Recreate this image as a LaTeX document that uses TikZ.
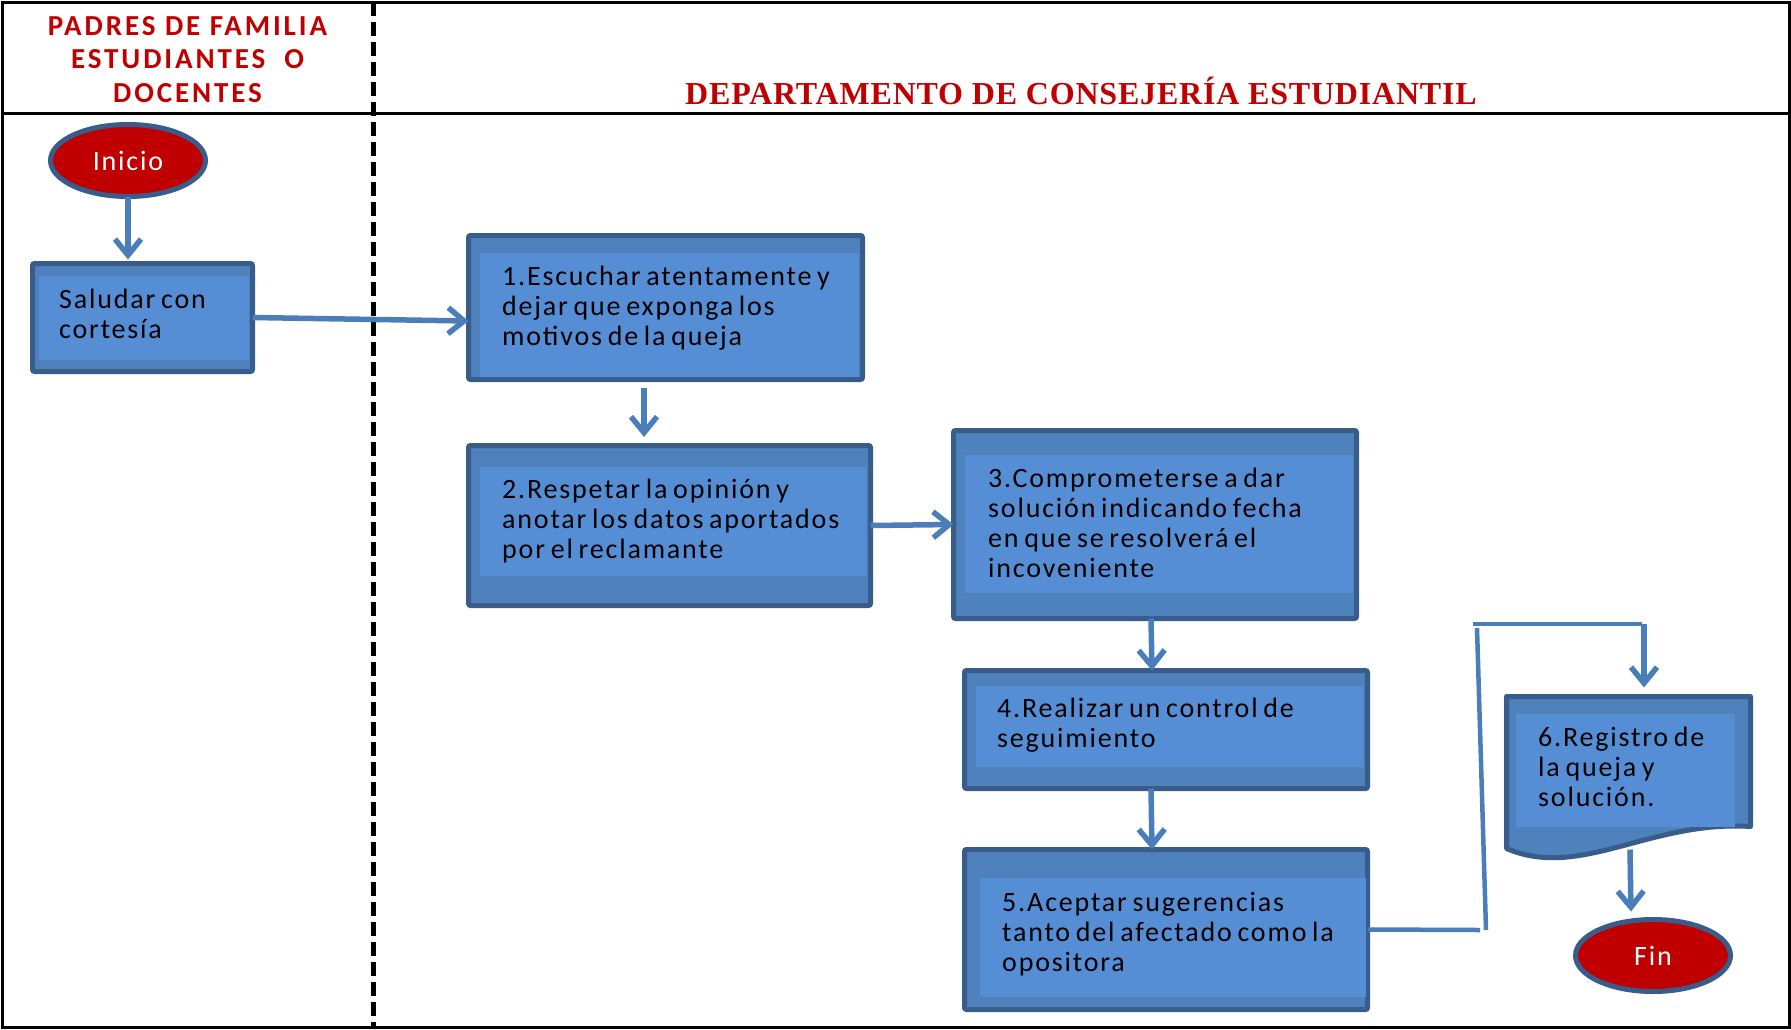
\documentclass[tikz,border=0pt]{standalone}
\usepackage{fontspec}
\usetikzlibrary{arrows.meta,calc,shapes.geometric}
\setmainfont{Carlito}
\newfontfamily\bodyfont[LetterSpace=6.5,WordSpace=0.7]{Carlito}
\newfontfamily\headfont[LetterSpace=10]{Carlito}
\newfontfamily\deptfont[LetterSpace=2.5]{Liberation Serif}

\definecolor{boxedge}{RGB}{56,93,138}
\definecolor{boxmid}{RGB}{79,129,189}
\definecolor{boxlight}{RGB}{85,142,213}
\definecolor{flowc}{RGB}{74,126,187}
\definecolor{termred}{RGB}{192,0,0}

\tikzset{
  box/.style={draw=boxedge, fill=boxmid, line width=5pt, rounded corners=2pt,
    inner sep=0pt, outer sep=0pt},
  lite/.style={fill=boxlight},
  txt/.style={font={\bodyfont\fontsize{28}{30}\selectfont}, align=left,
    inner sep=0pt, anchor=base west, text=black},
  flow/.style={draw=flowc, line width=5.5pt, -{Straight Barb[length=16pt,width=26pt]}},
  link/.style={draw=flowc, line width=4.5pt},
  term/.style={ellipse, draw=boxedge, fill=termred, line width=5pt,
    minimum width=155pt, minimum height=72pt, inner sep=0pt, outer sep=0pt,
    font={\bodyfont\fontsize{28}{30}\selectfont}, text=white},
  lanehead/.style={text=termred, inner sep=0pt},
}

\begin{document}
\begin{tikzpicture}[x=1pt,y=-1pt]
\useasboundingbox (0,0) rectangle (1791,1029);

% swimlane frame
\draw[line width=3pt] (2,2) rectangle (1789,1027);
\draw[line width=3pt] (2,113) -- (1789,113);
\draw[line width=5pt, dash pattern=on 14pt off 6pt] (373,2) -- (373,1027);

% lane titles (multi-line nodes are anchored on their last baseline)
\node[lanehead, align=center, anchor=base,
  font={\headfont\bfseries\fontsize{29}{33.5}\selectfont}] (lane1) at (187.5,102)
  {PADRES DE FAMILIA\\ESTUDIANTES\ \ O\\DOCENTES};
\node[lanehead, anchor=base, font={\deptfont\bfseries\fontsize{32}{34}\selectfont}]
  (lane2) at (1081,104) {DEPARTAMENTO DE CONSEJERÍA ESTUDIANTIL};

% terminals
\node[term] (ini) at (128,160.5) {Inicio};
\node[term] (fin) at (1653,955.5) {Fin};

% process boxes
\node[box, minimum width=220pt, minimum height=108pt] (b0) at (142.5,317.5) {};
\fill[lite] (39,276) rectangle (249,360);
\node[txt] (t0) at (59,338) {Saludar con\\cortesía};

\node[box, minimum width=394pt, minimum height=144pt] (b1) at (665.5,307.5) {};
\fill[lite] (480,253) rectangle (859,377);
\node[txt] (t1) at (502,345) {1.Escuchar atentamente y\\dejar que exponga los\\motivos de la queja};

\node[box, minimum width=402pt, minimum height=160pt] (b2) at (669.5,525.5) {};
\fill[lite] (480,467) rectangle (866,576);
\node[txt] (t2) at (502,558) {2.Respetar la opinión y\\anotar los datos aportados\\por el reclamante};

\node[box, minimum width=403pt, minimum height=188pt] (b3) at (1155,524.5) {};
\fill[lite] (965,455) rectangle (1353,593);
\node[txt] (t3) at (988,577) {3.Comprometerse a dar\\solución indicando fecha\\en que se resolverá el\\incoveniente};

\node[box, minimum width=403pt, minimum height=118pt] (b4) at (1166,729.5) {};
\fill[lite] (976,686) rectangle (1363,767);
\node[txt] (t4) at (997,747) {4.Realizar un control de\\seguimiento};

\node[box, minimum width=403pt, minimum height=160pt] (b5) at (1166,929.5) {};
\fill[lite] (980,878) rectangle (1366,997);
\node[txt] (t5) at (1002,971) {5.Aceptar sugerencias\\tanto del afectado como la\\opositora};

% document shape
\node[inner sep=0pt, outer sep=0pt, minimum width=244pt, minimum height=152pt] (b6) at (1628.5,772.5) {};
\filldraw[draw=boxedge, fill=boxmid, line width=5pt, line join=round]
  (1506.5,696.5) -- (1750.5,696.5) -- (1750.5,826.5)
  .. controls (1650,820) and (1580,880) .. (1506.5,848.5) -- cycle;
\fill[lite] (1516,714) rectangle (1735,827);
\node[txt] (t6) at (1538,806) {6.Registro de\\la queja y\\solución.};

% connectors
\draw[flow] (ini.south) -- ($(ini.south |- b0.north)+(0,-4)$);
\draw[flow] (b0.east) -- ($(b1.west)+(0,13.5)$);
\coordinate (d1) at (644,388);
\coordinate (d2) at (644,437);
\draw[flow] (d1) -- (d2);
\draw[flow] (b2.east) -- (b3.west);
\draw[flow] ($(b3.south)+(-4,0)$) -- ($(b4.north)+(-14,0)$);
\draw[flow] ($(b4.south)+(-15,0)$) -- ($(b5.north)+(-14,0)$);

\coordinate (k1) at (1480,930);
\coordinate (k2) at (1486,930);
\coordinate (k3) at (1477,628);
\coordinate (k4) at (1473,624);
\coordinate (k5) at (1642,624);
\coordinate (k6) at (1644,624);
\draw[link] (b5.east) -- (k1);
\draw[link] (k2) -- (k3);
\draw[link] (k4) -- (k5);
\draw[flow] (k6) -- ($(k6 |- b6.north)+(0,-9)$);
\draw[flow] ($(b6.south)+(1.5,1)$) -- ($(fin.north)+(-22,-8)$);
\end{tikzpicture}
\end{document}
